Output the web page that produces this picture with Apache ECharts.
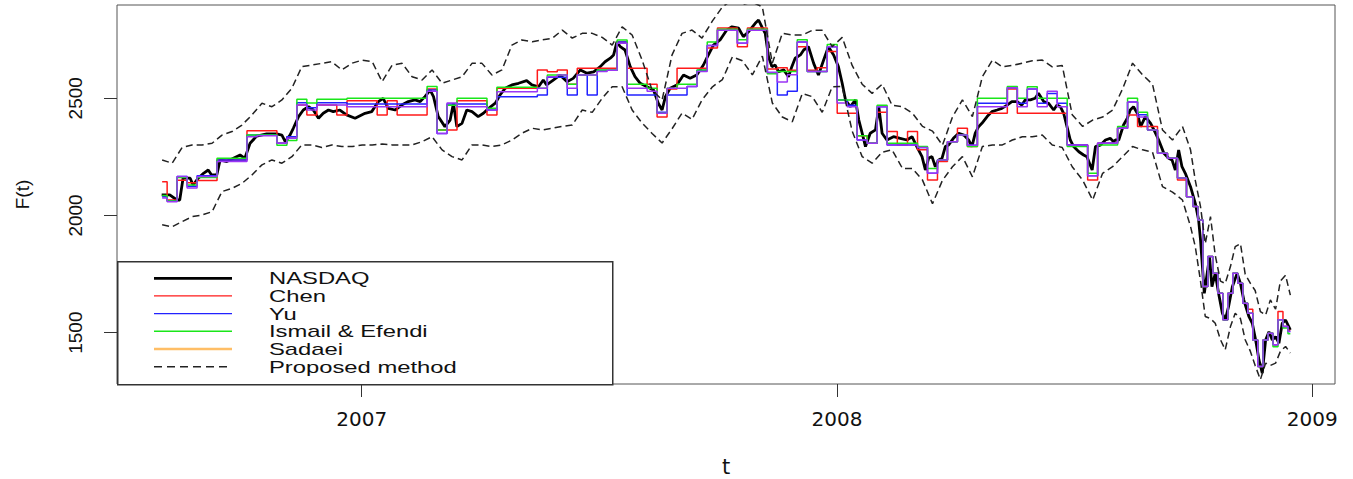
<!DOCTYPE html>
<html>
<head>
<meta charset="utf-8">
<title>NASDAQ forecasts</title>
<script src="https://cdn.jsdelivr.net/npm/echarts@6/dist/echarts.min.js"></script>
<style>
  html, body { margin: 0; padding: 0; background: #fff; }
  #main { width: 1353px; height: 479px; }
</style>
</head>
<body>
<div id="main"></div>
<script>
// NASDAQ closing index (decimal year, value)
var tIdx = [
  2006.579, 2006.596, 2006.611, 2006.617, 2006.624, 2006.639, 2006.645, 2006.656, 2006.667, 2006.677,
  2006.684, 2006.695, 2006.702, 2006.716, 2006.730, 2006.744, 2006.754, 2006.765, 2006.779, 2006.800,
  2006.821, 2006.832, 2006.839, 2006.849, 2006.856, 2006.867, 2006.877, 2006.888, 2006.898, 2006.909,
  2006.919, 2006.930, 2006.940, 2006.954, 2006.968, 2006.986, 2007.007, 2007.021, 2007.035, 2007.045,
  2007.056, 2007.070, 2007.084, 2007.098, 2007.112, 2007.123, 2007.133, 2007.144, 2007.151, 2007.161,
  2007.175, 2007.186, 2007.193, 2007.200, 2007.211, 2007.221, 2007.232, 2007.245, 2007.256, 2007.267,
  2007.281, 2007.291, 2007.302, 2007.316, 2007.330, 2007.347, 2007.358, 2007.372, 2007.382, 2007.389,
  2007.403, 2007.417, 2007.432, 2007.445, 2007.460, 2007.474, 2007.488, 2007.502, 2007.512, 2007.523,
  2007.530, 2007.537, 2007.544, 2007.554, 2007.565, 2007.575, 2007.586, 2007.600, 2007.614, 2007.624,
  2007.632, 2007.639, 2007.649, 2007.663, 2007.677, 2007.691, 2007.705, 2007.719, 2007.726, 2007.740,
  2007.754, 2007.768, 2007.779, 2007.793, 2007.803, 2007.814, 2007.828, 2007.835, 2007.842, 2007.849,
  2007.856, 2007.863, 2007.870, 2007.877, 2007.888, 2007.898, 2007.905, 2007.912, 2007.923, 2007.930,
  2007.940, 2007.951, 2007.961, 2007.972, 2007.982, 2007.993, 2008.003, 2008.011, 2008.018, 2008.028,
  2008.039, 2008.046, 2008.053, 2008.060, 2008.070, 2008.081, 2008.088, 2008.095, 2008.105, 2008.119,
  2008.133, 2008.147, 2008.158, 2008.168, 2008.179, 2008.186, 2008.193, 2008.200, 2008.207, 2008.214,
  2008.221, 2008.228, 2008.235, 2008.245, 2008.256, 2008.267, 2008.277, 2008.284, 2008.291, 2008.298,
  2008.305, 2008.316, 2008.326, 2008.337, 2008.347, 2008.358, 2008.368, 2008.379, 2008.389, 2008.396,
  2008.407, 2008.417, 2008.424, 2008.435, 2008.445, 2008.456, 2008.463, 2008.470, 2008.477, 2008.484,
  2008.491, 2008.498, 2008.509, 2008.519, 2008.526, 2008.537, 2008.544, 2008.554, 2008.565, 2008.575,
  2008.582, 2008.586, 2008.593, 2008.603, 2008.611, 2008.617, 2008.624, 2008.632, 2008.639, 2008.649,
  2008.660, 2008.667, 2008.677, 2008.688, 2008.698, 2008.705, 2008.712, 2008.719, 2008.726, 2008.733,
  2008.744, 2008.754, 2008.761, 2008.765, 2008.768, 2008.773, 2008.779, 2008.784, 2008.789, 2008.796,
  2008.803, 2008.811, 2008.817, 2008.824, 2008.832, 2008.842, 2008.849, 2008.856, 2008.867, 2008.874,
  2008.881, 2008.888, 2008.895, 2008.902, 2008.909, 2008.916, 2008.923, 2008.930, 2008.937, 2008.944,
  2008.954
];
var nasdaq = [
  2088, 2088, 2066, 2066, 2159, 2159, 2130, 2159, 2180, 2194,
  2173, 2173, 2237, 2230, 2244, 2258, 2244, 2308, 2339, 2348,
  2348, 2343, 2315, 2343, 2372, 2422, 2450, 2464, 2450, 2415,
  2436, 2450, 2443, 2450, 2429, 2415, 2436, 2443, 2486, 2500,
  2457, 2450, 2471, 2486, 2493, 2486, 2507, 2535, 2507, 2422,
  2379, 2407, 2479, 2379, 2393, 2450, 2443, 2422, 2436, 2457,
  2479, 2514, 2543, 2557, 2564, 2575, 2557, 2549, 2578, 2557,
  2578, 2599, 2571, 2585, 2621, 2607, 2613, 2635, 2656, 2671,
  2685, 2741, 2720, 2706, 2635, 2592, 2564, 2549, 2535, 2479,
  2450, 2507, 2543, 2557, 2599, 2585, 2599, 2642, 2671, 2727,
  2749, 2791, 2805, 2799, 2763, 2784, 2820, 2834, 2805, 2777,
  2677, 2635, 2642, 2613, 2621, 2592, 2635, 2671, 2685, 2706,
  2720, 2649, 2599, 2663, 2720, 2685, 2635, 2564, 2493, 2464,
  2493, 2407, 2351, 2294, 2351, 2365, 2464, 2351, 2322, 2336,
  2329, 2322, 2336, 2294, 2251, 2194, 2245, 2251, 2208, 2237,
  2244, 2294, 2301, 2329, 2351, 2343, 2322, 2294, 2351, 2379,
  2393, 2422, 2443, 2450, 2457, 2471, 2486, 2486, 2471, 2493,
  2493, 2500, 2521, 2486, 2479, 2450, 2471, 2464, 2436, 2379,
  2322, 2294, 2272, 2258, 2251, 2194, 2294, 2300, 2322, 2329,
  2315, 2322, 2322, 2386, 2415, 2450, 2464, 2436, 2379, 2422,
  2393, 2365, 2322, 2265, 2244, 2237, 2194, 2279, 2208, 2180,
  2123, 2052, 1981, 1896, 1810, 1668, 1753, 1824, 1696, 1753,
  1668, 1583, 1554, 1611, 1696, 1753, 1711, 1640, 1568, 1540,
  1469, 1384, 1327, 1469, 1504, 1469, 1483, 1455, 1540, 1554,
  1512
];

// forecast dates (decimal year)
var tGrid = [
  2006.580, 2006.601, 2006.622, 2006.643, 2006.664, 2006.685, 2006.706, 2006.727, 2006.748, 2006.769,
  2006.790, 2006.811, 2006.832, 2006.853, 2006.874, 2006.895, 2006.916, 2006.937, 2006.958, 2006.980,
  2007.001, 2007.022, 2007.043, 2007.064, 2007.085, 2007.106, 2007.127, 2007.148, 2007.169, 2007.190,
  2007.211, 2007.232, 2007.253, 2007.274, 2007.295, 2007.316, 2007.337, 2007.359, 2007.380, 2007.401,
  2007.422, 2007.443, 2007.464, 2007.485, 2007.506, 2007.527, 2007.548, 2007.569, 2007.590, 2007.611,
  2007.632, 2007.653, 2007.674, 2007.695, 2007.716, 2007.738, 2007.759, 2007.780, 2007.801, 2007.822,
  2007.843, 2007.864, 2007.885, 2007.906, 2007.927, 2007.948, 2007.969, 2007.990, 2008.011, 2008.032,
  2008.053, 2008.074, 2008.095, 2008.116, 2008.138, 2008.159, 2008.180, 2008.201, 2008.222, 2008.243,
  2008.264, 2008.285, 2008.306, 2008.327, 2008.348, 2008.369, 2008.390, 2008.411, 2008.432, 2008.453,
  2008.474, 2008.495, 2008.517, 2008.538, 2008.559, 2008.580, 2008.601, 2008.622, 2008.643, 2008.664,
  2008.685, 2008.706, 2008.727,
  2008.744, 2008.754, 2008.765, 2008.775, 2008.786, 2008.796, 2008.807, 2008.817, 2008.828, 2008.838,
  2008.849, 2008.859, 2008.870, 2008.880, 2008.891, 2008.902, 2008.912, 2008.923, 2008.933, 2008.944,
  2008.954
];
var chen = [
  2144, 2066, 2150, 2140, 2149, 2149, 2237, 2237, 2237, 2362,
  2362, 2362, 2308, 2336, 2471, 2429, 2471, 2471, 2429, 2490,
  2490, 2490, 2429, 2490, 2429, 2429, 2429, 2540, 2365, 2365,
  2490, 2490, 2490, 2429, 2543, 2543, 2543, 2543, 2621, 2613,
  2621, 2560, 2628, 2628, 2628, 2628, 2740, 2628, 2628, 2560,
  2420, 2540, 2628, 2628, 2628, 2715, 2800, 2800, 2720, 2800,
  2800, 2625, 2630, 2620, 2720, 2620, 2630, 2700, 2436, 2436,
  2340, 2308, 2440, 2358, 2301, 2358, 2280, 2151, 2230, 2315,
  2372, 2294, 2436, 2436, 2436, 2540, 2436, 2436, 2436, 2436,
  2436, 2301, 2301, 2151, 2308, 2308, 2372, 2429, 2380, 2380,
  2265, 2244, 2151,
  2080, 2038, 1981, 1697, 1825, 1754, 1668, 1555, 1668, 1754,
  1711, 1626, 1600, 1469, 1356, 1469, 1498, 1448, 1590, 1526,
  1510
];
var yu = [
  2080, 2062, 2166, 2125, 2169, 2169, 2237, 2237, 2237, 2343,
  2343, 2343, 2308, 2336, 2481, 2460, 2481, 2481, 2481, 2476,
  2476, 2476, 2476, 2476, 2476, 2476, 2476, 2535, 2350, 2476,
  2476, 2476, 2476, 2450, 2507, 2507, 2507, 2507, 2514, 2590,
  2590, 2514, 2599, 2514, 2620, 2620, 2740, 2514, 2514, 2514,
  2440, 2514, 2514, 2550, 2620, 2725, 2790, 2790, 2735, 2790,
  2790, 2610, 2514, 2530, 2740, 2614, 2614, 2720, 2493, 2470,
  2322, 2308, 2464, 2301, 2301, 2301, 2290, 2180, 2237, 2315,
  2343, 2300, 2479, 2479, 2479, 2545, 2479, 2540, 2479, 2520,
  2479, 2301, 2301, 2170, 2308, 2308, 2372, 2484, 2430, 2365,
  2265, 2244, 2160,
  2080, 2038, 1981, 1697, 1825, 1754, 1668, 1555, 1668, 1754,
  1711, 1626, 1583, 1469, 1356, 1469, 1498, 1448, 1555, 1526,
  1505
];
var ismail = [
  2085, 2062, 2162, 2130, 2162, 2162, 2244, 2244, 2244, 2343,
  2343, 2343, 2300, 2320, 2496, 2480, 2496, 2496, 2496, 2500,
  2500, 2500, 2500, 2500, 2500, 2500, 2500, 2550, 2365, 2470,
  2500, 2500, 2500, 2457, 2547, 2547, 2547, 2547, 2543, 2599,
  2599, 2560, 2599, 2599, 2621, 2621, 2749, 2560, 2560, 2543,
  2436, 2543, 2560, 2560, 2621, 2740, 2795, 2795, 2750, 2795,
  2795, 2605, 2614, 2614, 2750, 2614, 2614, 2730, 2493, 2493,
  2340, 2308, 2470, 2308, 2308, 2308, 2294, 2200, 2237, 2315,
  2343, 2294, 2500, 2500, 2500, 2550, 2500, 2549, 2500, 2500,
  2500, 2294, 2294, 2180, 2301, 2301, 2380, 2500, 2440, 2365,
  2265, 2244, 2160,
  2080, 2038, 1981, 1697, 1825, 1754, 1668, 1555, 1668, 1754,
  1711, 1626, 1583, 1469, 1356, 1469, 1498, 1440, 1555, 1520,
  1495
];
var sadaei = [
  2075, 2059, 2166, 2117, 2166, 2166, 2230, 2230, 2230, 2336,
  2340, 2340, 2308, 2330, 2471, 2450, 2471, 2471, 2471, 2464,
  2464, 2464, 2464, 2464, 2464, 2464, 2464, 2530, 2350, 2480,
  2464, 2464, 2464, 2450, 2528, 2528, 2528, 2528, 2543, 2592,
  2599, 2543, 2599, 2599, 2614, 2620, 2735, 2543, 2543, 2530,
  2436, 2543, 2543, 2550, 2614, 2725, 2790, 2790, 2735, 2790,
  2790, 2610, 2570, 2600, 2740, 2614, 2614, 2720, 2480, 2464,
  2322, 2308, 2464, 2301, 2301, 2301, 2290, 2180, 2237, 2315,
  2343, 2300, 2464, 2464, 2464, 2545, 2464, 2540, 2464, 2530,
  2464, 2301, 2301, 2170, 2308, 2308, 2372, 2484, 2420, 2365,
  2265, 2244, 2160,
  2080, 2038, 1981, 1697, 1825, 1754, 1668, 1555, 1668, 1754,
  1711, 1626, 1583, 1469, 1356, 1469, 1498, 1448, 1555, 1526,
  1505
];
// proposed method: upper / lower bounds
var upper = [
  2237, 2223, 2290, 2301, 2301, 2308, 2343, 2358, 2386, 2429,
  2479, 2464, 2493, 2543, 2635, 2642, 2649, 2656, 2621, 2650,
  2663, 2656, 2571, 2642, 2649, 2592, 2578, 2621, 2564, 2578,
  2592, 2649, 2649, 2599, 2621, 2727, 2749, 2741, 2749, 2756,
  2791, 2757, 2777, 2777, 2760, 2727, 2805, 2770, 2663, 2535,
  2493, 2685, 2777, 2791, 2757, 2830, 2890, 2920, 2900, 2910,
  2890, 2650, 2777, 2770, 2770, 2790, 2790, 2720, 2760, 2640,
  2560, 2521, 2560, 2470, 2464, 2436, 2380, 2360, 2300, 2420,
  2493, 2422, 2592, 2663, 2634, 2640, 2650, 2660, 2663, 2634,
  2640, 2430, 2380, 2407, 2420, 2450, 2540, 2650, 2600, 2560,
  2365, 2322, 2380,
  2280, 2150, 2038, 1880, 1995, 1830, 1720, 1710, 1782, 1867,
  1880, 1750, 1710, 1680, 1590, 1575, 1640, 1600, 1720, 1745,
  1660
];
var lower = [
  1960, 1952, 1974, 1995, 2002, 2016, 2102, 2116, 2137, 2173,
  2216, 2237, 2223, 2251, 2301, 2301, 2290, 2301, 2294, 2294,
  2301, 2301, 2305, 2301, 2301, 2301, 2315, 2336, 2280, 2251,
  2237, 2301, 2301, 2294, 2301, 2322, 2351, 2372, 2365, 2372,
  2380, 2386, 2450, 2440, 2500, 2549, 2549, 2450, 2394, 2350,
  2309, 2370, 2437, 2410, 2493, 2549, 2580, 2677, 2660, 2600,
  2680, 2480, 2420, 2400, 2520, 2507, 2440, 2549, 2550, 2360,
  2251, 2223, 2270, 2280, 2200, 2200, 2151, 2050, 2150, 2208,
  2251, 2165, 2294, 2301, 2301, 2322, 2336, 2336, 2343, 2301,
  2290, 2208, 2151, 2066, 2180, 2208, 2251, 2294, 2280, 2270,
  2123, 2100, 2066,
  1953, 1867, 1720, 1569, 1560, 1540, 1470, 1427, 1526, 1583,
  1560, 1470, 1420, 1360, 1300, 1370, 1360, 1370, 1420, 1441,
  1413
];
var yTicks = [1500, 2000, 2500];
var xTicks = [2007, 2008, 2009];
var legendNames = ['NASDAQ', 'Chen', 'Yu', 'Ismail & Efendi', 'Sadaei', 'Proposed method'];
var legendColors = ['#000', '#FF1A1A', '#2222FF', '#1AE61A', '#FFBE66', '#222'];

function pairs (t, v) {
  return t.map(function (x, i) { return [x, v[i]] })
}

var chart = echarts.init(document.getElementById('main'), null, { renderer: 'svg' });

var dash = [7, 4];
function stepLine (name, color, t, v) {
  return {
    name: name, type: 'line', step: 'middle', symbol: 'none',
    data: pairs(t, v), color: color,
    lineStyle: { color: color, width: 1.5 },
    emphasis: { disabled: true }
  }
}

// legend drawn R-style: box, line samples, labels
var legendItems = [{
  type: 'rect', left: 117, top: 261, z: 10,
  shape: { width: 495, height: 123 },
  style: { fill: '#fff', stroke: '#333', lineWidth: 1.5 }
}];
var rowY = [278.3, 295.9, 313.6, 331.3, 349, 366.7];
legendNames.forEach(function (name, i) {
  legendItems.push({
    type: 'line', z: 11,
    shape: { x1: 154, y1: rowY[i], x2: 232, y2: rowY[i] },
    style: {
      stroke: legendColors[i],
      lineWidth: i === 0 ? 2.8 : (i === 4 ? 2.4 : 1.4),
      lineDash: i === 5 ? [8, 5] : null
    }
  });
  legendItems.push({
    type: 'text', z: 11, x: 269, y: rowY[i], scaleX: 1.4,
    style: {
      text: name, fontSize: 17, fontFamily: 'Liberation Sans',
      fill: '#111', verticalAlign: 'middle', align: 'left'
    }
  });
});

var option = {
  animation: false,
  backgroundColor: '#fff',
  grid: {
    left: 117, right: 18, top: 5, bottom: 95,
    show: true, borderColor: '#555', borderWidth: 1,
    containLabel: false, outerBoundsMode: 'none'
  },
  xAxis: {
    type: 'value', min: 2006.485, max: 2009.048,
    name: 't', nameLocation: 'middle', nameGap: 72,
    nameTextStyle: { fontSize: 21, fontFamily: 'DejaVu Sans', color: '#111' },
    axisLine: { show: false },
    axisTick: { show: true, length: 13, customValues: xTicks, lineStyle: { color: '#333' } },
    axisLabel: {
      customValues: xTicks, margin: 25, fontSize: 20, fontFamily: 'DejaVu Sans', color: '#111',
      formatter: function (v) { return String(v) }
    },
    splitLine: { show: false }
  },
  yAxis: {
    type: 'value', min: 1281, max: 2898,
    name: 'F(t)', nameLocation: 'middle', nameGap: 85, nameRotate: 90,
    nameTextStyle: { fontSize: 19, fontFamily: 'Liberation Sans', color: '#111' },
    axisLine: { show: false },
    axisTick: { show: true, length: 13, customValues: yTicks, lineStyle: { color: '#333' } },
    axisLabel: {
      customValues: yTicks, rotate: 90, margin: 32, fontSize: 19, fontFamily: 'Liberation Sans', color: '#111',
      formatter: function (v) { return String(v) }
    },
    splitLine: { show: false }
  },
  graphic: legendItems,
  series: [
    {
      name: 'NASDAQ', type: 'line', symbol: 'none',
      data: pairs(tIdx, nasdaq), color: '#000',
      lineStyle: { color: '#000', width: 2.8 },
      emphasis: { disabled: true }
    },
    stepLine('Chen', '#FF1A1A', tGrid, chen),
    stepLine('Yu', '#2222FF', tGrid, yu),
    stepLine('Ismail & Efendi', '#1AE61A', tGrid, ismail),
    stepLine('Sadaei', '#9B35F5', tGrid, sadaei),
    {
      name: 'Proposed method', type: 'line', symbol: 'none',
      data: pairs(tGrid, upper), color: '#222',
      lineStyle: { color: '#222', width: 1.5, type: dash },
      emphasis: { disabled: true }
    },
    {
      name: 'Proposed method', type: 'line', symbol: 'none',
      data: pairs(tGrid, lower), color: '#222',
      lineStyle: { color: '#222', width: 1.5, type: dash },
      emphasis: { disabled: true }
    }
  ]
};

chart.setOption(option);
</script>
</body>
</html>
